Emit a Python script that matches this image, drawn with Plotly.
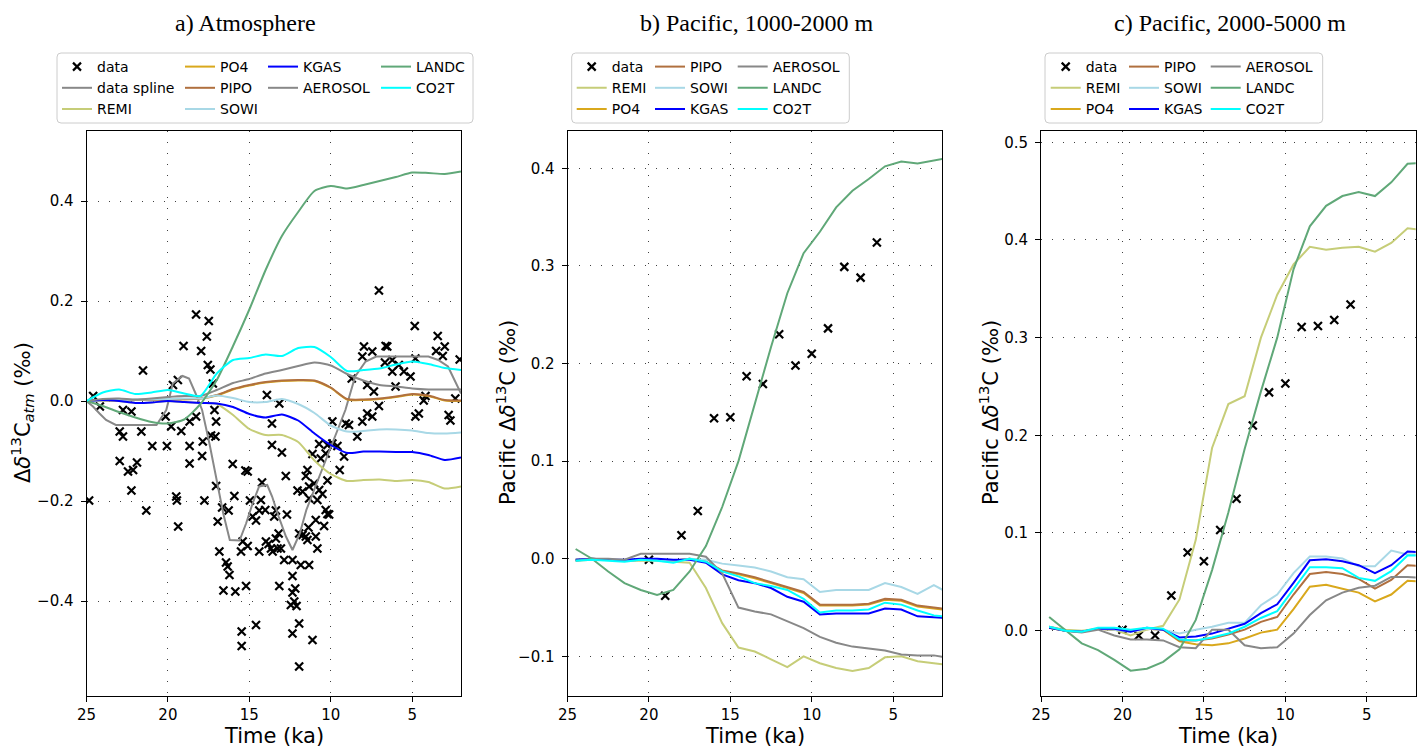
import plotly.graph_objects as go

W, H = 1419, 750
FONT = "DejaVu Sans"
SERIF = "Liberation Serif"

# ---------------- Panel a: Atmosphere ----------------
ta = [25, 24, 23, 22, 21, 20, 19, 18, 17, 16, 15, 14, 13, 12, 11, 10, 9, 8, 7, 6, 5, 4, 3, 2]
REMI_a = [0.000, 0.002, 0.000, -0.004, -0.003, 0.000, -0.002, -0.004, -0.006, -0.028, -0.056, -0.068, -0.068, -0.082, -0.119, -0.146, -0.160, -0.158, -0.157, -0.160, -0.158, -0.162, -0.175, -0.171]
PO4_a = [0.000, 0.001, 0.001, 0.002, 0.002, 0.003, 0.003, 0.005, 0.011, 0.023, 0.031, 0.037, 0.040, 0.041, 0.040, 0.026, 0.003, 0.002, 0.004, 0.008, 0.013, 0.010, 0.001, 0.000]
PIPO_a = [0.000, 0.001, 0.002, 0.002, 0.002, 0.003, 0.004, 0.005, 0.012, 0.024, 0.032, 0.038, 0.041, 0.042, 0.041, 0.027, 0.004, 0.003, 0.005, 0.009, 0.014, 0.011, 0.002, 0.001]
SOWI_a = [0.000, 0.001, 0.002, 0.003, 0.003, 0.004, 0.005, 0.005, 0.011, 0.006, -0.002, -0.002, 0.004, -0.006, -0.024, -0.049, -0.061, -0.060, -0.057, -0.057, -0.059, -0.064, -0.065, -0.063]
KGAS_a = [0.000, 0.002, 0.000, -0.004, -0.003, 0.000, -0.002, -0.004, -0.005, -0.012, -0.026, -0.033, -0.027, -0.039, -0.065, -0.088, -0.104, -0.101, -0.101, -0.102, -0.102, -0.108, -0.118, -0.113]
AEROSOL_a = [0.000, 0.004, 0.005, 0.003, 0.005, 0.008, 0.010, 0.010, 0.022, 0.036, 0.044, 0.055, 0.062, 0.070, 0.077, 0.071, 0.054, 0.041, 0.032, 0.029, 0.025, 0.023, 0.023, 0.023]
LANDC_a = [0.000, -0.010, -0.022, -0.033, -0.042, -0.045, -0.037, -0.006, 0.042, 0.110, 0.183, 0.262, 0.330, 0.378, 0.420, 0.430, 0.425, 0.432, 0.440, 0.448, 0.457, 0.456, 0.454, 0.459]
CO2T_a = [0.000, 0.017, 0.023, 0.014, 0.017, 0.022, 0.015, 0.010, 0.055, 0.082, 0.086, 0.093, 0.090, 0.106, 0.108, 0.088, 0.060, 0.062, 0.065, 0.073, 0.079, 0.074, 0.066, 0.062]

t_spline = [25.0, 24.6, 24.2, 23.8, 23.2, 20.7, 20.1, 19.7, 19.1, 18.7, 18.3, 17.9, 17.45, 17.0, 16.6, 16.2, 15.6, 15.2, 14.8, 14.4, 13.9, 13.6, 13.2, 12.75, 12.35, 11.9, 11.5, 10.7, 9.9, 9.1, 8.5, 7.86, 7.2, 4.0, 3.4, 2.8, 2.0]
y_spline = [0.0, -0.011, -0.025, -0.038, -0.048, -0.048, -0.018, 0.035, 0.05, 0.045, 0.015, -0.018, -0.085, -0.158, -0.225, -0.278, -0.279, -0.245, -0.205, -0.171, -0.168, -0.191, -0.231, -0.271, -0.298, -0.265, -0.218, -0.151, -0.085, -0.018, 0.049, 0.079, 0.089, 0.089, 0.082, 0.069, 0.015]

t_data_a = [7.04, 18.27, 17.49, 17.61, 19.04, 17.96, 21.53, 17.55, 17.39, 19.69,
            19.39, 17.24, 4.84, 3.43, 3.0, 3.53, 3.12, 7.96, 7.45, 8.06,
            6.63, 6.53, 6.67, 6.22, 5.82, 6.22, 5.51, 5.10, 4.80, 2.08,
            13.92, 13.16, 8.71, 7.76, 7.35, 7.04, 7.76, 7.45, 8.06, 4.18,
            4.29, 4.59, 4.80, 2.76, 2.65, 2.35, 8.88, 9.08, 8.37, 9.90,
            24.59, 24.18, 22.76, 22.24, 22.96, 22.76, 21.63, 20.96, 20.06, 20.14,
            19.80, 19.18, 18.67, 18.27, 18.67, 17.86, 17.35, 17.08, 17.14, 17.04,
            18.67, 17.90, 22.96, 22.14, 21.90, 22.24, 21.33, 19.49, 19.45, 19.37,
            17.76, 24.84, 17.04, 16.02, 15.24, 15.10, 14.22, 15.92, 16.27, 16.67,
            16.94, 14.80, 14.59, 14.96, 14.29, 14.02, 13.47, 13.37, 12.76, 13.61,
            13.0, 13.61, 12.04, 11.73, 11.33, 11.53, 11.43, 10.71, 11.12, 10.31,
            10.71, 10.51, 10.20, 10.31, 10.20, 10.92, 10.41, 11.37, 11.73, 11.43,
            10.92, 10.82, 11.84, 11.33, 12.35, 12.18, 12.35, 12.24, 12.45, 12.10,
            11.94, 12.35, 11.12, 11.94, 13.16, 15.20, 15.86, 16.59, 16.33, 16.43,
            16.84, 16.22, 15.47, 15.47, 14.59, 15.51, 15.10, 15.41, 14.39, 13.98,
            13.67, 13.57, 13.06, 12.86, 13.20, 13.37, 13.82, 12.69, 11.94, 11.53,
            10.10, 9.45, 9.59, 9.18, 9.90, 10.20, 11.33, 10.61, 11.02, 10.82,
            14.39, 13.27, 12.35, 22.45, 6.02]
y_data_a = [0.221, 0.173, 0.160, 0.129, 0.110, 0.100, 0.061, 0.072, 0.063, 0.032,
            0.042, 0.035, 0.150, 0.130, 0.109, 0.100, 0.090, 0.109, 0.099, 0.089,
            0.110, 0.109, 0.077, 0.082, 0.072, 0.059, 0.059, 0.049, 0.085, 0.083,
            0.012, -0.005, 0.045, 0.032, 0.019, -0.010, -0.025, -0.031, -0.041, 0.010,
            0.001, -0.025, -0.031, -0.028, -0.039, 0.005, -0.048, -0.045, -0.071, -0.041,
            0.010, -0.011, -0.018, -0.021, -0.061, -0.071, -0.061, -0.090, -0.090, -0.031,
            -0.051, -0.060, -0.041, -0.031, -0.090, -0.081, -0.069, -0.071, -0.018, -0.041,
            -0.125, -0.110, -0.120, -0.138, -0.123, -0.179, -0.219, -0.191, -0.199, -0.251,
            -0.199, -0.199, -0.170, -0.126, -0.139, -0.141, -0.163, -0.190, -0.219, -0.213,
            -0.241, -0.231, -0.239, -0.199, -0.198, -0.218, -0.231, -0.219, -0.150, -0.088,
            -0.103, -0.045, -0.179, -0.181, -0.195, -0.150, -0.138, -0.086, -0.106, -0.105,
            -0.178, -0.186, -0.159, -0.218, -0.226, -0.238, -0.250, -0.253, -0.268, -0.278,
            -0.271, -0.295, -0.328, -0.328, -0.350, -0.375, -0.383, -0.401, -0.408, -0.410,
            -0.445, -0.465, -0.478, -0.531, -0.370, -0.370, -0.381, -0.379, -0.331, -0.323,
            -0.301, -0.348, -0.461, -0.490, -0.448, -0.301, -0.290, -0.281, -0.301, -0.281,
            -0.295, -0.301, -0.295, -0.318, -0.265, -0.275, -0.286, -0.227, -0.265, -0.271,
            -0.227, -0.138, -0.090, -0.111, -0.085, -0.088, -0.171, -0.115, -0.165, -0.198,
            -0.219, -0.295, -0.318, -0.141, 0.029]

# ---------------- Panels b, c: model time axis ----------------
tm = [24.5, 23.5, 22.5, 21.5, 20.5, 19.5, 18.5, 17.5, 16.5, 15.5, 14.5, 13.5, 12.5, 11.5, 10.5, 9.5, 8.5, 7.5, 6.5, 5.5, 4.5, 3.5, 2.5, 1.5]

# Panel b: Pacific 1000-2000 m
t_data_b = [20, 19, 18, 17, 16, 15, 14, 13, 12, 11, 10, 9, 8, 7, 6]
y_data_b = [-0.001, -0.038, 0.024, 0.049, 0.144, 0.145, 0.187, 0.179, 0.230, 0.198, 0.210, 0.236, 0.299, 0.288, 0.324]
REMI_b = [-0.002, -0.001, -0.001, -0.002, -0.002, -0.002, -0.003, -0.004, -0.030, -0.066, -0.091, -0.095, -0.103, -0.111, -0.100, -0.107, -0.112, -0.115, -0.112, -0.101, -0.100, -0.105, -0.107, -0.109]
PO4_b = [-0.001, 0.000, -0.001, -0.002, -0.001, -0.001, -0.002, 0.000, -0.003, -0.013, -0.016, -0.020, -0.025, -0.030, -0.035, -0.048, -0.048, -0.048, -0.047, -0.042, -0.043, -0.049, -0.051, -0.053]
PIPO_b = [-0.001, 0.000, -0.001, -0.002, -0.001, -0.001, -0.002, 0.000, -0.003, -0.012, -0.015, -0.019, -0.024, -0.029, -0.034, -0.047, -0.047, -0.047, -0.046, -0.041, -0.042, -0.048, -0.050, -0.052]
SOWI_b = [-0.001, 0.000, -0.001, -0.002, -0.001, -0.001, -0.002, 0.000, -0.001, -0.005, -0.007, -0.009, -0.013, -0.019, -0.021, -0.034, -0.032, -0.032, -0.032, -0.025, -0.029, -0.036, -0.027, -0.036]
KGAS_b = [-0.001, 0.000, -0.001, -0.001, 0.000, 0.000, -0.001, -0.001, -0.004, -0.016, -0.022, -0.025, -0.030, -0.039, -0.044, -0.057, -0.056, -0.056, -0.056, -0.051, -0.052, -0.059, -0.060, -0.061]
AEROSOL_b = [-0.002, 0.000, 0.000, -0.001, 0.005, 0.005, 0.005, 0.005, 0.002, -0.015, -0.050, -0.054, -0.057, -0.064, -0.071, -0.080, -0.086, -0.090, -0.092, -0.094, -0.098, -0.099, -0.099, -0.102]
LANDC_b = [0.010, 0.000, -0.013, -0.025, -0.032, -0.037, -0.032, -0.013, 0.013, 0.053, 0.100, 0.158, 0.217, 0.272, 0.313, 0.335, 0.360, 0.377, 0.389, 0.402, 0.407, 0.405, 0.408, 0.411]
CO2T_b = [-0.002, -0.001, -0.002, -0.003, -0.001, -0.002, -0.004, 0.000, -0.003, -0.013, -0.018, -0.025, -0.028, -0.032, -0.041, -0.055, -0.053, -0.053, -0.052, -0.045, -0.047, -0.053, -0.058, -0.060]

# Panel c: Pacific 2000-5000 m
t_data_c = [20, 19, 18, 17, 16, 15, 14, 13, 12, 11, 10, 9, 8, 7, 6]
y_data_c = [0.001, -0.005, -0.005, 0.036, 0.080, 0.071, 0.103, 0.135, 0.210, 0.244, 0.253, 0.311, 0.312, 0.318, 0.334]
REMI_c = [0.004, 0.001, 0.000, 0.002, 0.001, -0.005, 0.001, 0.005, 0.032, 0.093, 0.187, 0.232, 0.240, 0.300, 0.344, 0.375, 0.393, 0.390, 0.392, 0.393, 0.388, 0.397, 0.412, 0.410]
PO4_c = [0.003, 0.000, -0.001, 0.002, 0.001, 0.000, 0.002, 0.001, -0.011, -0.014, -0.015, -0.013, -0.008, -0.002, 0.001, 0.022, 0.045, 0.047, 0.043, 0.039, 0.030, 0.037, 0.051, 0.050]
PIPO_c = [0.003, 0.000, -0.001, 0.002, 0.001, 0.000, 0.002, 0.001, -0.010, -0.010, -0.008, -0.004, 0.001, 0.009, 0.014, 0.037, 0.058, 0.060, 0.058, 0.053, 0.043, 0.052, 0.067, 0.066]
SOWI_c = [0.004, 0.000, -0.001, 0.002, 0.001, -0.001, 0.002, 0.001, -0.003, 0.001, 0.004, 0.008, 0.008, 0.026, 0.037, 0.059, 0.076, 0.076, 0.074, 0.066, 0.066, 0.082, 0.078, 0.078]
KGAS_c = [0.003, 0.000, -0.001, 0.002, 0.002, -0.001, 0.003, 0.001, -0.007, -0.006, -0.003, 0.002, 0.007, 0.018, 0.027, 0.049, 0.072, 0.073, 0.071, 0.067, 0.059, 0.067, 0.081, 0.080]
AEROSOL_c = [0.004, 0.000, -0.002, 0.001, -0.005, -0.009, -0.009, -0.010, -0.017, -0.018, 0.001, 0.001, -0.015, -0.018, -0.017, -0.003, 0.016, 0.031, 0.039, 0.044, 0.046, 0.055, 0.055, 0.054]
LANDC_c = [0.014, 0.000, -0.013, -0.020, -0.030, -0.041, -0.039, -0.032, -0.019, 0.011, 0.062, 0.121, 0.186, 0.245, 0.300, 0.370, 0.414, 0.435, 0.445, 0.449, 0.445, 0.459, 0.478, 0.479]
CO2T_c = [0.004, 0.000, -0.001, 0.003, 0.003, 0.001, 0.003, 0.002, -0.009, -0.010, -0.007, -0.003, 0.004, 0.013, 0.020, 0.042, 0.065, 0.065, 0.064, 0.054, 0.051, 0.061, 0.077, 0.077]

x_ticks = [25, 20, 15, 10, 5]
y_ticks_a = [-0.4, -0.2, 0.0, 0.2, 0.4]
y_ticks_b = [-0.1, 0.0, 0.1, 0.2, 0.3, 0.4]
y_ticks_c = [0.0, 0.1, 0.2, 0.3, 0.4, 0.5]

COLORS = {
    "data spline": "#888888",
    "REMI": "#c6cd78",
    "PO4": "#d9a81c",
    "PIPO": "#b0703f",
    "SOWI": "#a8d8e6",
    "KGAS": "#0000ff",
    "AEROSOL": "#888888",
    "LANDC": "#60a878",
    "CO2T": "#00ffff",
}


def PX(p):
    """page pixel (x) -> paper fraction"""
    return p / W


def PY(p):
    """page pixel (y) -> paper fraction"""
    return 1 - p / H


fig = go.Figure()


def add_data(x, y, xa, ya, leg):
    fig.add_trace(go.Scatter(
        x=x, y=y, mode="markers", name="data", xaxis=xa, yaxis=ya, legend=leg,
        marker=dict(symbol="x-thin", size=8, color="black",
                    line=dict(width=2.2, color="black"))))


def add_line(name, x, y, xa, ya, leg, shape="linear"):
    fig.add_trace(go.Scatter(
        x=x, y=y, mode="lines", name=name, xaxis=xa, yaxis=ya, legend=leg,
        line=dict(color=COLORS[name], width=2, shape=shape,
                  smoothing=0.6 if shape == "spline" else None)))


# panel a
add_data(t_data_a, y_data_a, "x", "y", "legend")
add_line("data spline", t_spline, y_spline, "x", "y", "legend")
add_line("REMI", ta, REMI_a, "x", "y", "legend", "spline")
add_line("PO4", ta, PO4_a, "x", "y", "legend2", "spline")
add_line("PIPO", ta, PIPO_a, "x", "y", "legend2", "spline")
add_line("SOWI", ta, SOWI_a, "x", "y", "legend2", "spline")
add_line("KGAS", ta, KGAS_a, "x", "y", "legend3", "spline")
add_line("AEROSOL", ta, AEROSOL_a, "x", "y", "legend3", "spline")
add_line("LANDC", ta, LANDC_a, "x", "y", "legend4", "spline")
add_line("CO2T", ta, CO2T_a, "x", "y", "legend4", "spline")

# panel b
add_data(t_data_b, y_data_b, "x2", "y2", "legend5")
add_line("REMI", tm, REMI_b, "x2", "y2", "legend5")
add_line("PO4", tm, PO4_b, "x2", "y2", "legend5")
add_line("PIPO", tm, PIPO_b, "x2", "y2", "legend6")
add_line("SOWI", tm, SOWI_b, "x2", "y2", "legend6")
add_line("KGAS", tm, KGAS_b, "x2", "y2", "legend6")
add_line("AEROSOL", tm, AEROSOL_b, "x2", "y2", "legend7")
add_line("LANDC", tm, LANDC_b, "x2", "y2", "legend7")
add_line("CO2T", tm, CO2T_b, "x2", "y2", "legend7")

# panel c
add_data(t_data_c, y_data_c, "x3", "y3", "legend8")
add_line("REMI", tm, REMI_c, "x3", "y3", "legend8")
add_line("PO4", tm, PO4_c, "x3", "y3", "legend8")
add_line("PIPO", tm, PIPO_c, "x3", "y3", "legend9")
add_line("SOWI", tm, SOWI_c, "x3", "y3", "legend9")
add_line("KGAS", tm, KGAS_c, "x3", "y3", "legend9")
add_line("AEROSOL", tm, AEROSOL_c, "x3", "y3", "legend10")
add_line("LANDC", tm, LANDC_c, "x3", "y3", "legend10")
add_line("CO2T", tm, CO2T_c, "x3", "y3", "legend10")

# ---------------- layout ----------------
PLOT_TOP, PLOT_BOT = 130.7, 696.0
YDOM = [PY(PLOT_BOT), PY(PLOT_TOP)]
XPIX = [(86.5, 461.0), (567.5, 942.0), (1041.0, 1415.7)]
YRANGES = [[-0.59, 0.5406], [-0.1406, 0.4385], [-0.0669, 0.5119]]
YTICKS = [y_ticks_a, y_ticks_b, y_ticks_c]

common_axis = dict(
    ticks="outside", ticklen=5, tickwidth=1, tickcolor="black",
    showline=True, linecolor="black", linewidth=1, mirror=True,
    showgrid=True, gridcolor="rgba(0,0,0,0.75)", gridwidth=1, griddash="1px,10px",
    zeroline=False, automargin=False,
    tickfont=dict(family=FONT, size=15, color="black"),
)

layout = dict(
    template="none",
    width=W, height=H, autosize=False,
    margin=dict(l=0, r=0, t=0, b=0, pad=0),
    paper_bgcolor="white", plot_bgcolor="white",
    font=dict(family=FONT, color="black"),
    showlegend=True, hovermode=False,
)
for i in range(3):
    sx = "" if i == 0 else str(i + 1)
    layout["xaxis" + sx] = dict(
        common_axis, domain=[PX(XPIX[i][0]), PX(XPIX[i][1])], range=[25, 2],
        tickvals=x_ticks, anchor="y" + sx)
    layout["yaxis" + sx] = dict(
        common_axis, domain=YDOM, range=YRANGES[i], tickvals=YTICKS[i],
        tickformat=".1f", anchor="x" + sx, ticklabelstandoff=4)

# legends: one per column, positioned in page pixels
LEG_TOP = 51.0
leg_cols = [57, 180, 263, 376, 571.7, 650, 732.7, 1045.7, 1124, 1205.7]
for k, xp in enumerate(leg_cols):
    key = "legend" if k == 0 else "legend" + str(k + 1)
    layout[key] = dict(
        x=PX(xp), y=PY(LEG_TOP), xanchor="left", yanchor="top",
        orientation="v", bgcolor="rgba(0,0,0,0)", borderwidth=0,
        font=dict(family=FONT, size=14, color="black"), traceorder="normal",
        itemwidth=30)


def rounded_rect(x0, y0, x1, y1, r=4.0):
    return (f"M {PX(x0 + r)},{PY(y0)} L {PX(x1 - r)},{PY(y0)} Q {PX(x1)},{PY(y0)} {PX(x1)},{PY(y0 + r)} "
            f"L {PX(x1)},{PY(y1 - r)} Q {PX(x1)},{PY(y1)} {PX(x1 - r)},{PY(y1)} "
            f"L {PX(x0 + r)},{PY(y1)} Q {PX(x0)},{PY(y1)} {PX(x0)},{PY(y1 - r)} "
            f"L {PX(x0)},{PY(y0 + r)} Q {PX(x0)},{PY(y0)} {PX(x0 + r)},{PY(y0)} Z")


frames = [(57, 53, 473, 123), (571.7, 53, 849.3, 123), (1045, 53, 1322.7, 123)]
layout["shapes"] = [
    dict(type="path", xref="paper", yref="paper", path=rounded_rect(*f),
         line=dict(color="#cccccc", width=1), fillcolor="white", layer="below")
    for f in frames
]

titles = ["a) Atmosphere", "b) Pacific, 1000-2000 m", "c) Pacific, 2000-5000 m"]
title_x = [245, 757, 1230]
ylabels = ["Δ<i>δ</i><sup>13</sup>C<sub><i>atm</i></sub> (‰)",
           "Pacific Δ<i>δ</i><sup>13</sup>C (‰)",
           "Pacific Δ<i>δ</i><sup>13</sup>C (‰)"]
ylabel_x = [22, 506, 989]
ann = []
for i in range(3):
    ann.append(dict(text=titles[i], x=PX(title_x[i]), y=PY(23.5), xref="paper", yref="paper",
                    xanchor="center", yanchor="middle", showarrow=False,
                    font=dict(family=SERIF, size=24, color="black")))
    ann.append(dict(text="Time (ka)", x=PX((XPIX[i][0] + XPIX[i][1]) / 2), y=PY(736),
                    xref="paper", yref="paper", xanchor="center", yanchor="middle",
                    showarrow=False, font=dict(family=FONT, size=21, color="black")))
    ann.append(dict(text=ylabels[i], x=PX(ylabel_x[i]), y=PY(413), xref="paper", yref="paper",
                    xanchor="center", yanchor="middle", textangle=-90, showarrow=False,
                    font=dict(family=FONT, size=21, color="black")))
layout["annotations"] = ann

fig.update_layout(**layout)
# remove the browser's default 8 px page margin so the figure fills the window exactly
fig.write_html("out.html",
               config={"displayModeBar": False},
               post_script="document.body.style.margin='0';document.body.style.overflow='hidden';")
